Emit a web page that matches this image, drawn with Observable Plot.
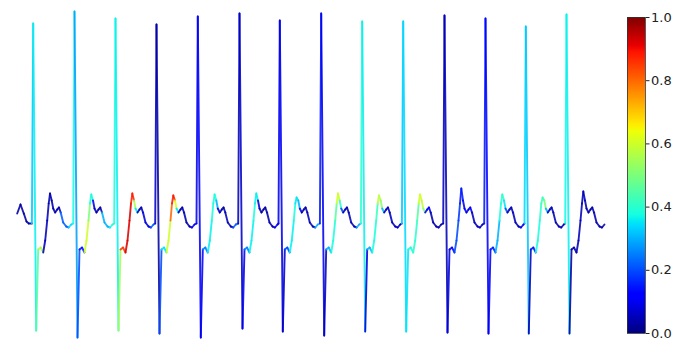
<!DOCTYPE html>
<html><head><meta charset="utf-8">
<script src="https://cdn.jsdelivr.net/npm/d3@7"></script>
<script src="https://cdn.jsdelivr.net/npm/@observablehq/plot@0.6"></script>
<style>
body{margin:0;background:#fff}
#wrap{display:flex;width:675px;height:342px;overflow:hidden}
</style>
</head><body><div id="wrap"></div>
<script>
// ---- signal lead-in (tail of a preceding beat) ----
const leadInTime = [1.7, 5, 8.3, 11, 13.3];
const leadInValue = [0.07, 0.16, 0.07, -0.01, -0.03];
const leadInAttention = [0.03, 0.03, 0.03, 0.03, 0.03];

// ---- per-beat values (sample index of R peak, amplitudes) ----
const beatTime = [17.7, 59, 100, 141, 182.3, 224, 264.3, 305.7, 346.7, 387.7, 429, 470, 510.3, 551];
const rPeak   = [1.97, 2.09, 2.02, 1.96, 2.04, 2.07, 2.00, 2.07, 1.99, 1.99, 2.05, 2.02, 1.94, 2.06];
const sTrough = [-1.10, -1.17, -1.10, -1.13, -1.17, -1.08, -1.11, -1.15, -1.11, -1.11, -1.12, -1.13, -1.13, -1.13];
const tPeak   = [0.27, 0.26, 0.27, 0.25, 0.26, 0.27, 0.23, 0.27, 0.25, 0.26, 0.32, 0.26, 0.23, 0.29];

// ---- beat waveform (offset from R peak, value) ----
const shapeOffset = [-1.3, 0, 3, 5, 7.5, 10, 12, 14, 15.5, 16.8, 18.5, 20, 22, 24, 25.8, 27.5, 30, 33, 35.5, 38];
const shapeValue  = [-0.03, "R", "S", -0.29, -0.27, -0.32, -0.2, 0.0, 0.17, "T", 0.2, 0.12, 0.08, 0.11, 0.13, 0.08, -0.02, -0.06, -0.07, -0.04];
const shapePhase  = ["up","down","sUp","notch","notch","rise","rise","rise2","peak","peak","fall","fall2","bump","bump","bump","tail","tail","tail","end","end"];

// ---- attention weights per beat and wave phase ----
const attention = {
  up:    [0.32,0.38,0.38,0.06,0.10,0.05,0.10,0.15,0.40,0.32,0.05,0.15,0.34,0.37],
  down:  [0.36,0.28,0.36,0.03,0.12,0.06,0.10,0.10,0.36,0.34,0.05,0.12,0.32,0.36],
  sUp:   [0.45,0.20,0.55,0.20,0.10,0.10,0.06,0.05,0.08,0.35,0.08,0.10,0.05,0.03],
  notch: [0.56,0.15,0.85,0.35,0.25,0.25,0.20,0.30,0.30,0.38,0.12,0.15,0.15,0.04],
  rise:  [0.05,0.60,0.92,0.60,0.36,0.36,0.36,0.38,0.38,0.40,0.20,0.30,0.38,0.05],
  rise2: [0.05,0.50,0.92,0.80,0.38,0.38,0.38,0.45,0.42,0.45,0.18,0.38,0.40,0.05],
  peak:  [0.04,0.38,0.88,0.88,0.38,0.36,0.35,0.60,0.58,0.60,0.15,0.40,0.42,0.05],
  fall:  [0.04,0.10,0.55,0.62,0.30,0.08,0.30,0.40,0.52,0.58,0.10,0.35,0.50,0.04],
  fall2: [0.04,0.05,0.35,0.35,0.08,0.05,0.10,0.20,0.30,0.50,0.10,0.20,0.30,0.04],
  bump:  [0.04,0.04,0.05,0.04,0.04,0.03,0.04,0.04,0.05,0.10,0.10,0.05,0.05,0.04],
  tail:  [0.22,0.30,0.08,0.04,0.05,0.04,0.05,0.05,0.05,0.04,0.05,0.05,0.04,0.04],
  end:   [0.34,0.38,0.22,0.12,0.22,0.12,0.30,0.30,0.06,0.04,0.05,0.10,0.05,0.04]
};

const colorbarTicks = [0, 0.2, 0.4, 0.6, 0.8, 1.0];

// ---- jet colormap ----
const jetStops  = [0, 0.11, 0.125, 0.34, 0.35, 0.375, 0.64, 0.65, 0.66, 0.89, 0.91, 1];
const jetColors = ["#000080","#0000ff","#0000ff","#00dbff","#00e6f7","#15ffe2","#efff08","#f7f500","#ffec00","#ff1300","#e80000","#800000"];
const jetScale = d3.scaleLinear().domain(jetStops).range(jetColors).interpolate(d3.interpolateRgb).clamp(true);
const jet = t => jetScale(t);
const colorOpts = {type: "linear", domain: [0, 1], interpolate: jet};

// ---- build points and segments ----
const pts = [];
leadInTime.forEach((t, i) => pts.push({t, v: leadInValue[i], a: leadInAttention[i]}));
beatTime.forEach((bt, b) => {
  shapeOffset.forEach((dx, j) => {
    const sv = shapeValue[j];
    const v = sv === "R" ? rPeak[b] : sv === "S" ? sTrough[b] : sv === "T" ? tPeak[b] : sv;
    pts.push({t: bt + dx, v, a: attention[shapePhase[j]][b]});
  });
});
const segs = [];
for (let i = 0; i < pts.length - 1; i++) {
  segs.push({t1: pts[i].t, v1: pts[i].v, t2: pts[i+1].t, v2: pts[i+1].v, a: pts[i].a});
}

const main = Plot.plot({
  width: 620, height: 342,
  marginLeft: 15, marginRight: 15, marginTop: 0, marginBottom: 0,
  x: {domain: [0, 590], axis: null},
  y: {domain: [-1.22, 2.2], axis: null},
  color: colorOpts,
  marks: [
    Plot.link(segs, {x1: "t1", y1: "v1", x2: "t2", y2: "v2", stroke: "a", strokeWidth: 1.9, strokeOpacity: 0.88, strokeLinecap: "round"})
  ]
});

const step = 0.004;
const levels = d3.range(0, 1, step);
const bar = Plot.plot({
  width: 55, height: 342,
  marginLeft: 7, marginRight: 30, marginTop: 17, marginBottom: 9,
  style: {fontFamily: "DejaVu Sans", fontSize: "13px", color: "#222", background: "transparent"},
  x: {domain: [0, 1], axis: null},
  y: {domain: [0, 1], axis: "right", ticks: colorbarTicks, tickFormat: d3.format(".1f"), tickSize: 3.5, tickPadding: 2, label: null},
  color: colorOpts,
  marks: [
    Plot.rect(levels, {x1: 0, x2: 1, y1: d => d, y2: d => Math.min(1, d + step * 1.8), fill: d => d + step / 2}),
    Plot.frame({stroke: "#333", strokeWidth: 0.8})
  ]
});

const wrap = document.getElementById("wrap");
wrap.appendChild(main);
wrap.appendChild(bar);
</script></body></html>
